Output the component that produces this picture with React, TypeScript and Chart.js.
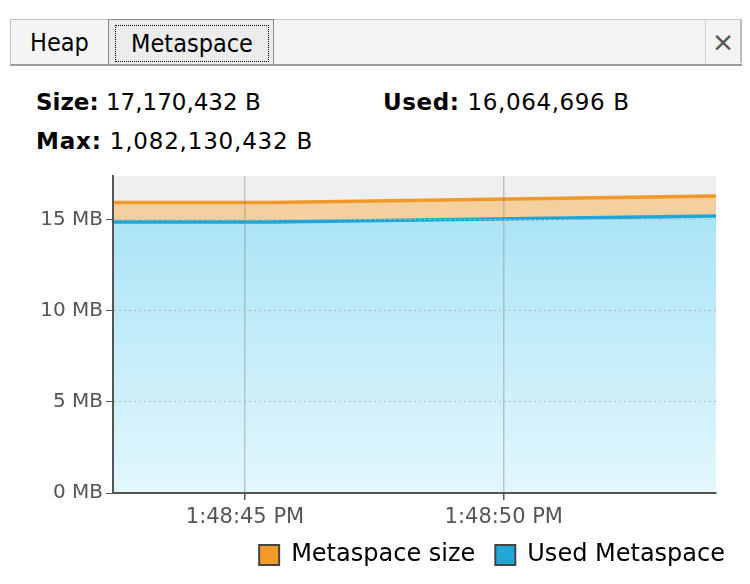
import React, { useEffect, useRef } from "react";
import { Chart, registerables } from "chart.js";

Chart.register(...registerables);

// seconds after 1:48:40 PM
const times = [2.45, 5.5, 14.1];
const metaspaceSizeMB = [15.95, 15.95, 16.3];
const usedMetaspaceMB = [14.88, 14.88, 15.2];
const yTickValues = [0, 5, 10, 15];
const xTickValues = [5, 10];
const xTickLabels = ["1:48:45 PM", "1:48:50 PM"];
const seriesLabels = ["Metaspace size", "Used Metaspace"];
const legendFills = ["#f39b2a", "#22a8d8"];

const FONT = "'DejaVu Sans', sans-serif";

export default function App() {
  const ref = useRef<HTMLCanvasElement | null>(null);

  useEffect(() => {
    const canvas = ref.current;
    if (!canvas) return;
    const bgPlugin = {
      id: "plotBg",
      beforeDraw(chart: any) {
        const { ctx, chartArea: a } = chart;
        ctx.save();
        ctx.fillStyle = "#efefef";
        ctx.fillRect(a.left, a.top, a.right - a.left, a.bottom - a.top);
        ctx.restore();
      },
    };
    const chart = new Chart(canvas, {
      type: "line",
      data: {
        datasets: [
          {
            label: seriesLabels[0],
            data: times.map((t, i) => ({ x: t, y: metaspaceSizeMB[i] })),
            borderColor: "#f0982a",
            borderWidth: 3.5,
            backgroundColor: "#f5d09f",
            fill: "+1",
            pointRadius: 0,
            tension: 0,
          },
          {
            label: seriesLabels[1],
            data: times.map((t, i) => ({ x: t, y: usedMetaspaceMB[i] })),
            borderColor: "#1fa6d6",
            borderWidth: 3.5,
            backgroundColor: (c: any) => {
              const a = c.chart.chartArea;
              if (!a) return "#b5e7f7";
              const g = c.chart.ctx.createLinearGradient(0, a.top, 0, a.bottom);
              g.addColorStop(0, "#a2e1f5");
              g.addColorStop(1, "#e3f7fd");
              return g;
            },
            fill: "origin",
            pointRadius: 0,
            tension: 0,
          },
        ],
      },
      options: {
        animation: false,
        responsive: false,
        devicePixelRatio: 1,
        layout: { padding: { left: 0, right: 5, top: 6, bottom: 7 } },
        plugins: {
          filler: { drawTime: "beforeDatasetsDraw" },
          tooltip: { enabled: false },
          legend: {
            position: "bottom",
            align: "end",
            labels: {
              boxWidth: 20,
              boxHeight: 20,
              padding: 20,
              color: "#000",
              font: { size: 24, family: FONT },
              generateLabels: () =>
                seriesLabels.map((t, i) => ({
                  text: t,
                  fillStyle: legendFills[i],
                  strokeStyle: "#444",
                  lineWidth: 2,
                  hidden: false,
                  datasetIndex: i,
                })),
            },
          },
        },
        scales: {
          x: {
            type: "linear",
            min: times[0],
            max: times[times.length - 1],
            afterFit: (s: any) => {
              s.height = 30;
              s.paddingLeft = 0;
              s.paddingRight = 0;
              s._computeLabelArea = () => undefined;
            },
            afterBuildTicks: (s: any) => {
              s.ticks = xTickValues.map((v) => ({ value: v }));
            },
            ticks: {
              autoSkip: false,
              maxRotation: 0,
              color: "#555",
              padding: 5,
              font: { size: 21, family: FONT },
              callback: (v: any) => xTickLabels[xTickValues.indexOf(Number(v))] ?? "",
            },
            grid: {
              z: 1,
              color: "rgba(150,150,150,0.5)",
              lineWidth: 1.5,
              tickColor: "#555",
              tickLength: 7,
            },
            border: { color: "#555", width: 2, z: 1 },
          },
          y: {
            min: 0,
            max: 17.4,
            afterBuildTicks: (s: any) => {
              s.ticks = yTickValues.map((v) => ({ value: v }));
            },
            afterFit: (s: any) => {
              s.width = 113;
              s.paddingTop = 0;
              s.paddingBottom = 0;
            },
            ticks: {
              color: "#555",
              padding: 3,
              font: { size: 20, family: FONT },
              callback: (v: any) => `${v} MB`,
            },
            grid: {
              z: 1,
              color: (c: any) => (c.tick && c.tick.value === 0 ? "rgba(0,0,0,0)" : "#b8b8b8"),
              lineWidth: 1,
              tickColor: "#555",
              tickLength: 7,
              tickBorderDash: [],
            },
            border: { color: "#555", width: 2, dash: [2, 3], z: 1 },
          },
          y2: {
            position: "right",
            display: true,
            min: 0,
            max: 17.4,
            ticks: { display: false },
            grid: { display: false, drawTicks: false },
            border: { display: false },
            afterFit: (s: any) => {
              s.width = 29;
              s.paddingTop = 0;
              s.paddingBottom = 0;
            },
          },
        },
      } as any,
      plugins: [bgPlugin],
    });
    return () => chart.destroy();
  }, []);

  const tabText: React.CSSProperties = {
    fontFamily: "'DejaVu Sans Condensed', 'DejaVu Sans', sans-serif",
    fontStretch: "condensed",
    fontSize: 25,
    color: "#000",
  };
  const headerStyle: React.CSSProperties = {
    position: "absolute",
    fontFamily: FONT,
    fontSize: 23,
    color: "#000",
    whiteSpace: "nowrap",
  };

  return (
    <div style={{ position: "fixed", left: 0, top: 0, width: 750, height: 584, background: "#fff", overflow: "hidden" }}>
      {/* tab bar */}
      <div style={{ position: "absolute", left: 10, top: 19, width: 732, height: 44, background: "#f3f3f3", borderTop: "1px solid #c8c8c8", borderBottom: "2px solid #9a9a9a" }} />
      <div style={{ position: "absolute", left: 10, top: 19, width: 97, height: 44, background: "#f5f5f5", borderLeft: "1px solid #c0c0c0", borderTop: "1px solid #c0c0c0", borderBottom: "2px solid #9a9a9a", display: "flex", alignItems: "center", justifyContent: "center", ...tabText }}>Heap</div>
      <div style={{ position: "absolute", left: 108, top: 19, width: 166, height: 45, background: "#ececec", border: "1px solid #8a8a8a", borderBottom: "none", boxSizing: "border-box", ...tabText }}>
        <div style={{ position: "absolute", left: 6, top: 5, right: 4, bottom: 2, border: "1px dotted #000", display: "flex", alignItems: "center", justifyContent: "center" }}>Metaspace</div>
      </div>
      <div style={{ position: "absolute", left: 705, top: 19, width: 37, height: 44, borderLeft: "1px solid #d0d0d0", borderRight: "2px solid #bdbdbd", boxSizing: "border-box", display: "flex", alignItems: "center", justifyContent: "center", fontFamily: FONT, fontSize: 27, color: "#555" }}>×</div>

      {/* header */}
      <div style={{ ...headerStyle, left: 36, top: 89 }}><b>Size:</b> 17,170,432 B</div>
      <div style={{ ...headerStyle, left: 383, top: 89, letterSpacing: 0.6 }}><b>Used:</b> 16,064,696 B</div>
      <div style={{ ...headerStyle, left: 36, top: 128, letterSpacing: 0.8 }}><b>Max:</b> 1,082,130,432 B</div>

      <canvas ref={ref} width={750} height={414} style={{ position: "absolute", left: 0, top: 170, width: 750, height: 414 }} />
    </div>
  );
}
